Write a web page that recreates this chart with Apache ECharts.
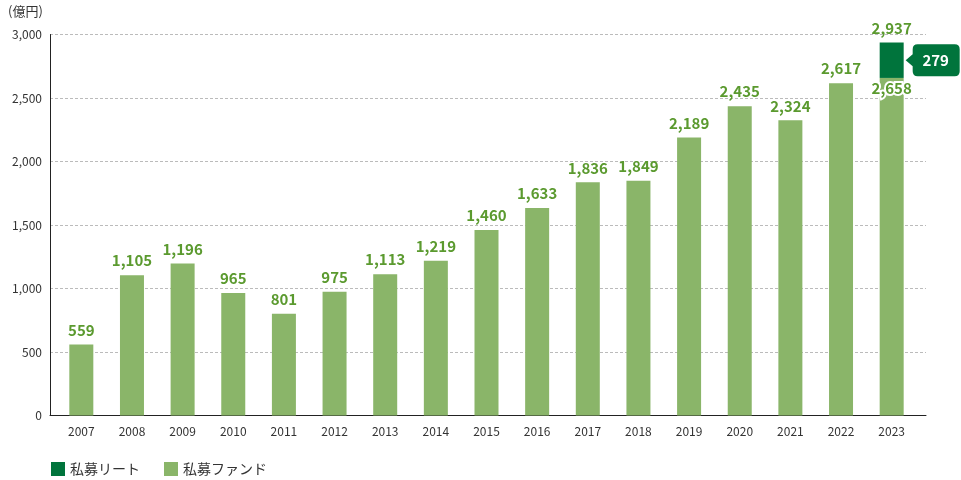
<!DOCTYPE html>
<html><head><meta charset="utf-8">
<script src="https://cdn.jsdelivr.net/npm/echarts@6/dist/echarts.min.js"></script>
<style>html,body{margin:0;padding:0;background:#fff}#c{width:961px;height:480px}</style>
</head><body><div id="c"></div>
<script>
const years = ['2007','2008','2009','2010','2011','2012','2013','2014','2015','2016','2017','2018','2019','2020','2021','2022','2023'];
const fund = [559,1105,1196,965,801,975,1113,1219,1460,1633,1836,1849,2189,2435,2324,2617,2658];
const reit = [null,null,null,null,null,null,null,null,null,null,null,null,null,null,null,null,279];
const yTicks = [0,500,1000,1500,2000,2500,3000];
const seriesNames = ['私募リート','私募ファンド'];

const FONT = '"Noto Sans CJK JP", "Noto Sans", sans-serif';
const LIGHT = '#8ab569';
const DARK = '#00743c';
const LBL = '#5b9a2f';
const fmt = v => Number(v).toLocaleString('en-US');
const lastIdx = fund.length - 1;

const fundData = fund.map((v, i) => {
  const hasReit = reit[i] != null;
  return hasReit ? {value: v, label: {position: 'insideTop', distance: 3, textBorderColor: '#fff', textBorderWidth: 4}} : v;
});

const chart = echarts.init(document.getElementById('c'), null, {renderer: 'canvas'});
chart.setOption({
  animation: false,
  textStyle: {fontFamily: FONT},
  title: {text: '(億円)', left: 3, top: 0, textStyle: {fontSize: 13, fontWeight: 'normal', color: '#333', fontFamily: FONT}},
  grid: [
    {left: 56, right: 44, top: 34.5, bottom: 64.5},
    {left: 50, right: 35, top: 34.5, bottom: 64.5}
  ],
  legend: {
    left: 51, bottom: 4, padding: 0, icon: 'rect', itemWidth: 14, itemHeight: 14, itemGap: 24,
    data: seriesNames,
    textStyle: {fontSize: 14, color: '#333', fontFamily: FONT}
  },
  xAxis: [
    {type: 'category', gridIndex: 0, data: years,
     axisLine: {show: false}, axisTick: {show: false},
     axisLabel: {color: '#333', fontSize: 12, margin: 10, fontFamily: FONT}},
    {type: 'category', gridIndex: 1, data: years,
     axisLine: {show: true, lineStyle: {color: '#222', width: 1}}, axisTick: {show: false},
     axisLabel: {show: false}}
  ],
  yAxis: [
    {type: 'value', gridIndex: 0, min: yTicks[0], max: yTicks[yTicks.length-1], interval: 500,
     show: false, splitLine: {show: false}},
    {type: 'value', gridIndex: 1, min: yTicks[0], max: yTicks[yTicks.length-1], interval: 500,
     axisLine: {show: true, lineStyle: {color: '#222', width: 1}}, axisTick: {show: false},
     axisLabel: {color: '#333', fontSize: 12, margin: 8, formatter: v => fmt(v), fontFamily: FONT},
     splitLine: {show: true, lineStyle: {color: '#bbb', type: [3, 2], width: 1}}}
  ],
  series: [
    {
      name: seriesNames[1], type: 'bar', stack: 'total', xAxisIndex: 0, yAxisIndex: 0,
      barWidth: 24, data: fundData, itemStyle: {color: LIGHT}, z: 2,
      label: {show: true, position: 'top', distance: 7, color: LBL, fontSize: 15, fontWeight: 'bold',
              fontFamily: FONT, formatter: p => fmt(p.value)}
    },
    {
      name: seriesNames[0], type: 'bar', stack: 'total', xAxisIndex: 0, yAxisIndex: 0,
      barWidth: 24, data: reit, itemStyle: {color: DARK}, z: 3,
      label: {show: true, position: 'top', distance: 7, color: LBL, fontSize: 15, fontWeight: 'bold',
              fontFamily: FONT, formatter: p => fmt(p.value + fund[p.dataIndex])},
      markPoint: {
        silent: true,
        symbol: 'path://M12,0L49,0Q54,0 54,5L54,27Q54,32 49,32L12,32Q7,32 7,27L7,22L0,16L7,10L7,5Q7,0 12,0Z',
        symbolSize: [54, 32], symbolKeepAspect: false, symbolOffset: [41, 0],
        itemStyle: {color: DARK},
        label: {show: true, position: 'inside', offset: [3, 0], color: '#fff', fontSize: 15, fontWeight: 'bold', fontFamily: FONT,
                formatter: p => fmt(p.value)},
        data: [{coord: [years[lastIdx], fund[lastIdx] + reit[lastIdx] / 2], value: reit[lastIdx]}]
      }
    },
    {type: 'bar', xAxisIndex: 1, yAxisIndex: 1, data: [], silent: true}
  ]
});
</script></body></html>
